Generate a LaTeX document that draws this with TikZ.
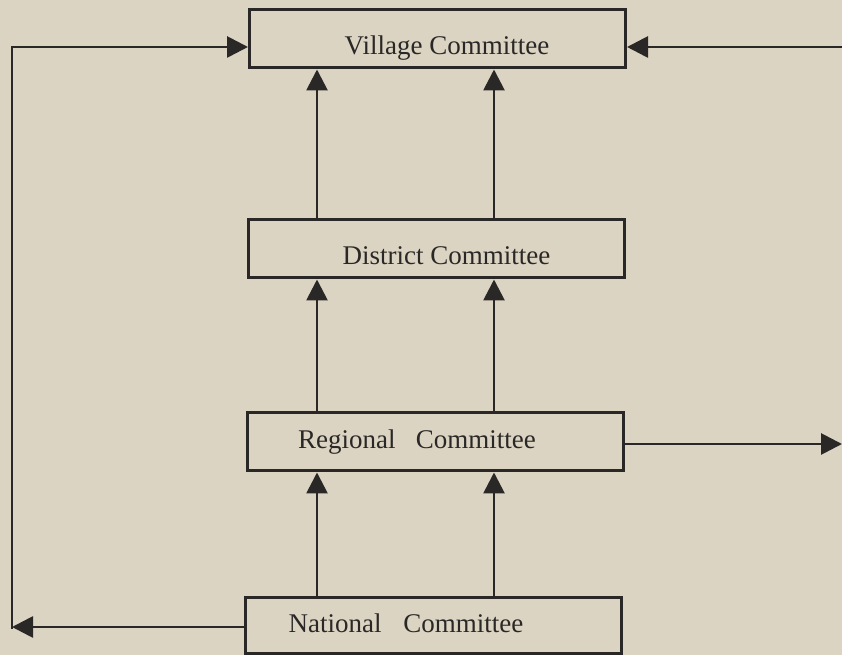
\documentclass[tikz,border=0pt]{standalone}
\usepackage{fontspec}
\setmainfont{Liberation Serif}
\usepackage{xcolor}
\usepackage{tikz}
\usetikzlibrary{arrows.meta, positioning, calc}
\definecolor{paper}{HTML}{DCD4C3}
\definecolor{inkgray}{HTML}{2A2826}

\begin{document}
\begin{tikzpicture}[
  x=1pt, y=1pt,
  box/.style={rectangle, draw=inkgray, line width=3pt, minimum width=376pt, minimum height=58pt, inner sep=0pt, text=inkgray, font=\fontsize{27}{32}\selectfont},
  lowtext/.style={text height=32pt, text depth=0pt},
  arrow/.style={-{Triangle[length=21pt, width=21pt]}, line width=2.8pt, draw=inkgray},
  link/.style={line width=2.8pt, draw=inkgray}
]
  \fill[paper] (0,0) rectangle (842,655);
  \useasboundingbox (0,0) rectangle (842,655);

  \node[box, lowtext] (village) at (437.5,616) {\hspace*{19pt}Village Committee};
  \node[box, lowtext] (district) at (436,406) {\hspace*{21pt}District Committee};
  \node[box] (regional) at (435.5,213) {\hspace*{-37pt}Regional\hspace{0.75em}Committee};
  \node[box, minimum height=55pt, text height=13pt, text depth=0pt] (national) at (433.5,29.5) {\hspace*{-55pt}National\hspace{0.8em}Committee};

  \coordinate (xl) at (317,0);
  \coordinate (xr) at (494,0);
  \coordinate (lowleft) at (12,28);
  \coordinate (topleft) at (12,608);
  \coordinate (topright) at (842,608);
  \coordinate (midright) at (842,211);

  \draw[arrow] (national.north -| xl) -- (regional.south -| xl);
  \draw[arrow] (national.north -| xr) -- (regional.south -| xr);
  \draw[arrow] (regional.north -| xl) -- (district.south -| xl);
  \draw[arrow] (regional.north -| xr) -- (district.south -| xr);
  \draw[arrow] (district.north -| xl) -- (village.south -| xl);
  \draw[arrow] (district.north -| xr) -- (village.south -| xr);

  \draw[arrow] (national.west |- lowleft) -- (lowleft);
  \draw[link] ($(lowleft)+(0,-2)$) -- ($(topleft)+(0,1.4)$);
  \draw[arrow] (topleft) -- (village.west |- topleft);
  \draw[arrow] (topright) -- (village.east |- topright);
  \draw[arrow] (regional.east |- midright) -- (midright);
\end{tikzpicture}
\end{document}
